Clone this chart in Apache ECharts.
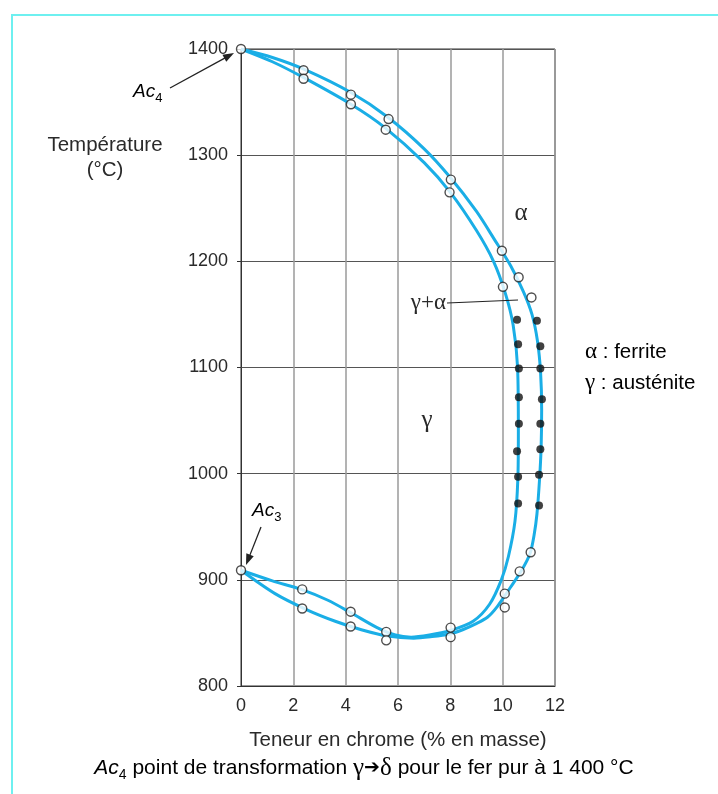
<!DOCTYPE html>
<html>
<head>
<meta charset="utf-8">
<script src="https://cdn.jsdelivr.net/npm/echarts/dist/echarts.min.js"></script>
<style>
html,body{margin:0;padding:0;background:#fff;}
#chart{width:718px;height:794px;}
</style>
</head>
<body>
<div id="chart"></div>
<script>
// ---- data ----
var xTicks = [0, 2, 4, 6, 8, 10, 12];
var yTicks = [800, 900, 1000, 1100, 1200, 1300, 1400];

// inner boundary (gamma / gamma+alpha)
var innerCr = [0, 1.2, 2.4, 4.2, 5.5, 7.0, 8.0, 9.0, 9.65, 10.1, 10.4, 10.57, 10.6, 10.58, 10.47, 10.22, 9.95, 9.5, 8.87, 7.97, 7.2, 6.5, 5.9, 5.2, 4.2, 3.3, 2.3, 1.2, 0];
var innerT  = [1400, 1388, 1373, 1348, 1326, 1293, 1265, 1229, 1200, 1170, 1140, 1100, 1040, 995, 955, 922, 900, 877, 861, 852, 848, 846, 848, 855, 869, 881, 891, 899, 909];

// outer boundary (gamma+alpha / alpha)
var outerCr = [0, 1.2, 2.4, 4.2, 5.6, 7.0, 8.0, 9.0, 9.7, 10.3, 10.8, 11.12, 11.33, 11.45, 11.49, 11.47, 11.41, 11.31, 11.2, 11.05, 10.75, 10.3, 9.8, 9.43, 8.97, 8.47, 7.97, 7.3, 6.6, 5.6, 4.6, 3.6, 2.5, 1.3, 0];
var outerT  = [1400, 1392, 1381, 1359, 1336, 1306, 1279, 1247, 1220, 1196, 1171, 1150, 1125, 1095, 1060, 1025, 995, 962, 942, 925, 910, 893, 875, 865, 858.5, 853, 849, 846.5, 845, 847, 853, 861, 872, 887, 909];

// measured points (open circles)
var openCr = [0, 2.39, 2.39, 4.2, 4.2, 5.64, 5.53, 8.02, 7.97, 9.97, 10.61, 10.01, 11.1,
              0, 2.34, 2.34, 4.19, 4.19, 5.55, 5.55, 8.01, 8.01, 10.08, 10.08, 10.65, 11.07];
var openT  = [1400, 1380, 1372, 1357, 1348, 1334, 1324, 1277, 1265, 1210, 1185, 1176, 1166,
              909, 891, 873, 870, 856, 851, 843, 855, 846, 887, 874, 908, 926];

// measured points (filled dots)
var dotCr = [10.55, 10.59, 10.62, 10.62, 10.62, 10.55, 10.59, 10.59,
             11.31, 11.44, 11.44, 11.5, 11.44, 11.44, 11.39, 11.39];
var dotT  = [1145, 1122, 1099, 1072, 1047, 1021, 997, 972,
             1144, 1120, 1099, 1070, 1047, 1023, 999, 970];

function zip(a, b) { return a.map(function (v, i) { return [v, b[i]]; }); }

var curveColor = '#1aaee6';
var txt = '#2a2a2a';
var font = '"Liberation Sans", Arial, sans-serif';
var greek = '"Liberation Serif", "DejaVu Serif", serif';
var fs = 20.5;

var chart = echarts.init(document.getElementById('chart'), null, {renderer: 'canvas'});

function arrowHead(tip, from, len, half) {
  var dx = tip[0] - from[0], dy = tip[1] - from[1];
  var L = Math.sqrt(dx * dx + dy * dy);
  var ux = dx / L, uy = dy / L;
  var bx = tip[0] - ux * len, by = tip[1] - uy * len;
  var nx = -uy * half, ny = ux * half;
  return [[tip[0], tip[1]], [bx + nx, by + ny], [bx - nx, by - ny]];
}
function arrowLineEnd(tip, from, len) {
  var dx = tip[0] - from[0], dy = tip[1] - from[1];
  var L = Math.sqrt(dx * dx + dy * dy);
  return [tip[0] - dx / L * (len - 1), tip[1] - dy / L * (len - 1)];
}

var ac4From = [170, 88], ac4Tip = [234, 53];
var ac3From = [261, 527], ac3Tip = [246, 565];
var acRich = {
  a: {fontFamily: font, fontStyle: 'italic', fontSize: 19, color: txt, lineHeight: 26},
  s: {fontFamily: font, fontSize: 13, color: txt, lineHeight: 13, verticalAlign: 'bottom'}
};

var option = {
  animation: false,
  backgroundColor: '#fff',
  grid: {left: 241, top: 49, right: 163, bottom: 108, show: true, borderColor: '#333', borderWidth: 1, backgroundColor: 'transparent'},
  xAxis: {
    type: 'value', min: 0, max: 12, interval: 2,
    name: 'Teneur en chrome (% en masse)', nameLocation: 'middle', nameGap: 44,
    nameTextStyle: {fontFamily: font, fontSize: fs, color: txt},
    axisLine: {show: true, lineStyle: {color: '#333', width: 1}},
    axisTick: {show: false},
    axisLabel: {fontFamily: font, fontSize: 18, color: txt, margin: 11, formatter: function (v) { return String(v); }},
    splitLine: {show: true, lineStyle: {color: '#9a9a9a', width: 1.5}}
  },
  yAxis: {
    type: 'value', min: 800, max: 1400, interval: 100,
    axisLine: {show: true, lineStyle: {color: '#333', width: 1}},
    axisTick: {show: true, inside: false, length: 4, lineStyle: {color: '#333'}},
    axisLabel: {fontFamily: font, fontSize: 18, color: txt, margin: 13, formatter: function (v) { return String(v); }},
    splitLine: {show: true, lineStyle: {color: '#555', width: 1}}
  },
  series: [
    {type: 'line', name: 'inner', data: zip(innerCr, innerT), smooth: 0.3, symbol: 'none',
     lineStyle: {color: curveColor, width: 3}, z: 3},
    {type: 'line', name: 'outer', data: zip(outerCr, outerT), smooth: 0.3, symbol: 'none',
     lineStyle: {color: curveColor, width: 3}, z: 3},
    {type: 'scatter', name: 'open', data: zip(openCr, openT), symbol: 'circle', symbolSize: 9,
     itemStyle: {color: '#fff', borderColor: '#222', borderWidth: 1.4}, z: 5},
    {type: 'scatter', name: 'filled', data: zip(dotCr, dotT), symbol: 'circle', symbolSize: 8,
     itemStyle: {color: '#111'}, z: 5}
  ],
  graphic: [
    {type: 'rect', shape: {x: 12, y: 15, width: 760, height: 800},
     style: {fill: 'none', stroke: '#6ef0f0', lineWidth: 2}, z: 0, silent: true},
    // y axis title
    {type: 'text', x: 105, y: 145,
     style: {text: 'Température', fontFamily: font, fontSize: fs, fill: txt, textAlign: 'center', textVerticalAlign: 'middle'}},
    {type: 'text', x: 105, y: 170,
     style: {text: '(°C)', fontFamily: font, fontSize: fs, fill: txt, textAlign: 'center', textVerticalAlign: 'middle'}},
    // Ac4 label + arrow
    {type: 'text', x: 133, y: 92,
     style: {text: '{a|Ac}{s|4}', rich: acRich, textAlign: 'left', textVerticalAlign: 'middle'}},
    {type: 'line', shape: {x1: ac4From[0], y1: ac4From[1], x2: arrowLineEnd(ac4Tip, ac4From, 10)[0], y2: arrowLineEnd(ac4Tip, ac4From, 10)[1]},
     style: {stroke: '#222', lineWidth: 1.3}, z: 10},
    {type: 'polygon', shape: {points: arrowHead(ac4Tip, ac4From, 11, 4)}, style: {fill: '#222'}, z: 10},
    // Ac3 label + arrow
    {type: 'text', x: 252, y: 511,
     style: {text: '{a|Ac}{s|3}', rich: acRich, textAlign: 'left', textVerticalAlign: 'middle'}},
    {type: 'line', shape: {x1: ac3From[0], y1: ac3From[1], x2: arrowLineEnd(ac3Tip, ac3From, 10)[0], y2: arrowLineEnd(ac3Tip, ac3From, 10)[1]},
     style: {stroke: '#222', lineWidth: 1.3}, z: 10},
    {type: 'polygon', shape: {points: arrowHead(ac3Tip, ac3From, 11, 4)}, style: {fill: '#222'}, z: 10},
    // phase labels
    {type: 'text', x: 521, y: 213, z: 10,
     style: {text: 'α', fontFamily: greek, fontSize: 25, fill: txt, textAlign: 'center', textVerticalAlign: 'middle'}},
    {type: 'text', x: 427, y: 420, z: 10,
     style: {text: 'γ', fontFamily: greek, fontSize: 25, fill: txt, textAlign: 'center', textVerticalAlign: 'middle'}},
    {type: 'text', x: 446, y: 303, z: 10,
     style: {text: 'γ+α', fontFamily: greek, fontSize: 23, fill: txt, textAlign: 'right', textVerticalAlign: 'middle'}},
    {type: 'line', shape: {x1: 447, y1: 303, x2: 518, y2: 300}, style: {stroke: '#222', lineWidth: 1.2}, z: 10},
    // legend text
    {type: 'text', x: 585, y: 352,
     style: {text: '{g|α}{t| : ferrite}', rich: {g: {fontFamily: greek, fontSize: 23, color: txt}, t: {fontFamily: font, fontSize: fs, color: txt}}, textAlign: 'left', textVerticalAlign: 'middle'}},
    {type: 'text', x: 585, y: 383,
     style: {text: '{g|γ}{t| : austénite}', rich: {g: {fontFamily: greek, fontSize: 23, color: txt}, t: {fontFamily: font, fontSize: fs, color: txt}}, textAlign: 'left', textVerticalAlign: 'middle'}},
    // caption
    {type: 'text', x: 364, y: 768,
     style: {
       text: '{a|Ac}{s|4}{t| point de transformation }{g|γ}{ar|➔}{g|δ}{t| pour le fer pur à 1 400 °C}',
       rich: {
         a: {fontFamily: font, fontStyle: 'italic', fontSize: 21, color: txt, lineHeight: 28},
         s: {fontFamily: font, fontSize: 14, color: txt, lineHeight: 14, verticalAlign: 'bottom'},
         t: {fontFamily: font, fontSize: 21, color: txt, lineHeight: 28},
         g: {fontFamily: greek, fontSize: 25, color: txt, lineHeight: 28},
         ar: {fontFamily: '"DejaVu Sans"', fontSize: 19, color: txt, lineHeight: 28}
       },
       textAlign: 'center', textVerticalAlign: 'middle'
     }}
  ]
};
chart.setOption(option);
</script>
</body>
</html>
